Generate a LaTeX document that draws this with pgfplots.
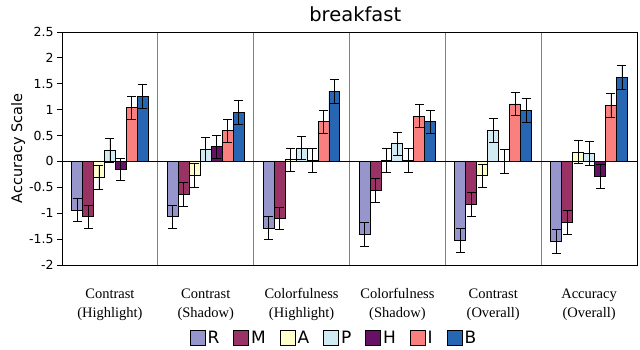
\documentclass[border=0pt]{standalone}
\usepackage{pgfplots}
\pgfplotsset{compat=1.18}
\usepackage{fontspec}
\setmainfont{DejaVu Sans}
\newfontfamily\serifx{Liberation Serif}
\definecolor{cR}{RGB}{150,150,204}
\definecolor{cM}{RGB}{153,51,102}
\definecolor{cA}{RGB}{255,255,204}
\definecolor{cP}{RGB}{208,236,242}
\definecolor{cH}{RGB}{102,16,102}
\definecolor{cI}{RGB}{250,128,128}
\definecolor{cB}{RGB}{38,102,178}
\begin{document}
\begin{tikzpicture}
\useasboundingbox (0,0) rectangle (640pt,349pt);
\begin{axis}[
  at={(62pt,84pt)}, anchor=south west,
  scale only axis, width=575pt, height=233pt,
  xmin=-0.5, xmax=5.5, ymin=-2, ymax=2.5,
  ybar=0pt, bar width=0.1143,
  ytick={-2,-1.5,-1,-0.5,0,0.5,1,1.5,2,2.5},
  yticklabels={-2,-1.5,-1,-0.5,0,0.5,1,1.5,2,2.5},
  tick label style={font=\fontsize{12.5}{14}\selectfont},
  ytick style={black, line width=0.8pt},
  tick align=outside, major tick length=5pt,
  ytick pos=left,
  xtick={0,1,2,3,4,5},
  xticklabels={{Contrast\\(Highlight)},{Contrast\\(Shadow)},{Colorfulness\\(Highlight)},{Colorfulness\\(Shadow)},{Contrast\\(Overall)},{Accuracy\\(Overall)}},
  xticklabel style={font=\serifx\fontsize{14.5}{19}\selectfont, align=center, yshift=-15pt},
  xtick style={draw=none},
  minor xtick={0.5,1.5,2.5,3.5,4.5},
  minor x tick style={draw=none},
  xminorgrids=true,
  minor grid style={gray, line width=1pt},
  axis line style={black, line width=0.8pt},
  title={breakfast},
  title style={font=\fontsize{19.5}{22}\selectfont, at={(axis description cs:0.51,1.05)}, anchor=center},
  ylabel={Accuracy Scale},
  ylabel style={font=\fontsize{14.5}{16}\selectfont, at={(axis description cs:-0.0765,0.5)}, anchor=center},
  legend columns=7,
  legend style={at={(axis description cs:0.473,-0.313)}, anchor=center, draw=none, fill=none,
    font=\fontsize{17}{19}\selectfont,
    /tikz/every even column/.append style={column sep=12pt}},
  legend image code/.code={\draw[#1, draw=black, line width=0.8pt] (0pt,-7.5pt) rectangle (15pt,7.5pt);},
  every axis plot/.append style={draw=black, line width=0.9pt,
    error bars/y dir=both, error bars/y explicit,
    error bars/error bar style={black, line width=0.8pt},
    error bars/error mark options={rotate=90, mark size=4.5pt, black, line width=0.8pt}},
]
\addplot[fill=cR] table[x=x,y=y,y error=e]{
x y e
0 -0.94 0.22
1 -1.07 0.23
2 -1.29 0.22
3 -1.41 0.23
4 -1.52 0.23
5 -1.54 0.23
};
\addplot[fill=cM] table[x=x,y=y,y error=e]{
x y e
0 -1.07 0.23
1 -0.64 0.23
2 -1.10 0.22
3 -0.56 0.23
4 -0.83 0.23
5 -1.18 0.23
};
\addplot[fill=cA] table[x=x,y=y,y error=e]{
x y e
0 -0.31 0.23
1 -0.27 0.23
2 0.03 0.23
3 0.02 0.23
4 -0.28 0.23
5 0.18 0.22
};
\addplot[fill=cP] table[x=x,y=y,y error=e]{
x y e
0 0.22 0.23
1 0.23 0.23
2 0.26 0.22
3 0.34 0.23
4 0.60 0.23
5 0.16 0.23
};
\addplot[fill=cH] table[x=x,y=y,y error=e]{
x y e
0 -0.155 0.22
1 0.28 0.23
2 0.02 0.23
3 0.02 0.23
4 0.0 0.23
5 -0.29 0.23
};
\addplot[fill=cI] table[x=x,y=y,y error=e]{
x y e
0 1.04 0.22
1 0.59 0.23
2 0.77 0.22
3 0.875 0.22
4 1.11 0.23
5 1.09 0.23
};
\addplot[fill=cB] table[x=x,y=y,y error=e]{
x y e
0 1.26 0.23
1 0.94 0.23
2 1.36 0.23
3 0.77 0.22
4 0.99 0.23
5 1.63 0.23
};
\legend{R,M,A,P,H,I,B}
\draw[black, line width=0.9pt] (axis cs:-0.5,0) -- (axis cs:5.5,0);
\end{axis}
\end{tikzpicture}
\end{document}
